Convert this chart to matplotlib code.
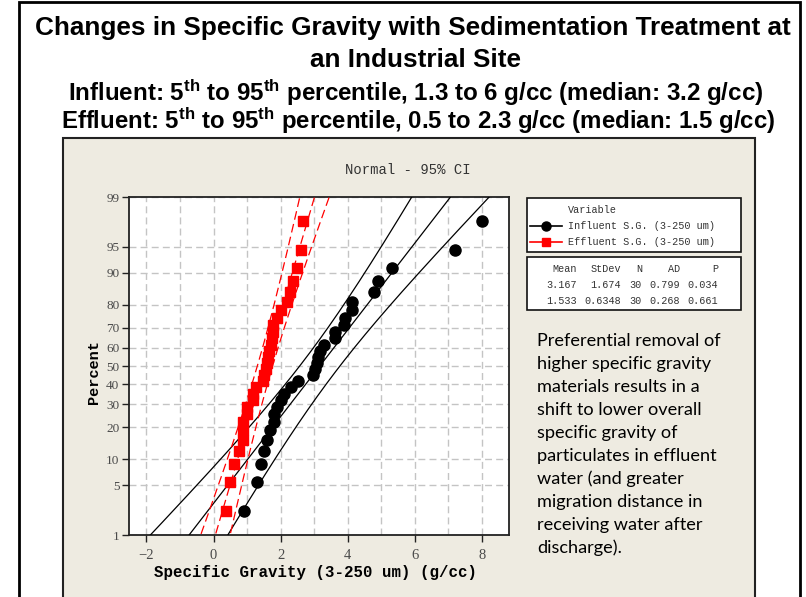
import numpy as np
import matplotlib
matplotlib.use("Agg")
import matplotlib.pyplot as plt
from matplotlib.lines import Line2D
from matplotlib.patches import Rectangle
from matplotlib import font_manager
from statistics import NormalDist

# ---------------- data ----------------
influent = [0.91, 1.29, 1.41, 1.50, 1.58, 1.68, 1.80, 1.80, 1.88, 2.00,
            2.11, 2.31, 2.53, 2.97, 3.02, 3.07, 3.12, 3.17, 3.29, 3.62,
            3.62, 3.90, 3.92, 4.12, 4.12, 4.79, 4.89, 5.31, 7.19, 8.01]
effluent = [0.37, 0.49, 0.61, 0.77, 0.89, 0.89, 0.89, 0.99, 0.99, 1.17,
            1.19, 1.27, 1.48, 1.50, 1.55, 1.58, 1.62, 1.66, 1.70, 1.74,
            1.78, 1.78, 1.88, 2.00, 2.18, 2.28, 2.38, 2.50, 2.60, 2.68]
series_names = ["Influent S.G. (3-250 um)", "Effluent S.G. (3-250 um)"]
fit_mean = [3.167, 1.533]
fit_sd = [1.674, 0.6348]
fit_n = [30, 30]
stats_header = ["Mean", "StDev", "N", "AD", "P"]
stats_influent = ["3.167", "1.674", "30", "0.799", "0.034"]
stats_effluent = ["1.533", "0.6348", "30", "0.268", "0.661"]
percent_ticks = [1, 5, 10, 20, 30, 40, 50, 60, 70, 80, 90, 95, 99]
x_ticks = [-2, 0, 2, 4, 6, 8]
x_grid = list(range(-2, 9))

title_lines = ["Changes in Specific Gravity with Sedimentation Treatment at",
               "an Industrial Site"]
subtitle_lines = [r"Influent: 5$^{\mathrm{th}}$ to 95$^{\mathrm{th}}$ percentile, 1.3 to 6 g/cc (median: 3.2 g/cc)",
                  r"Effluent: 5$^{\mathrm{th}}$ to 95$^{\mathrm{th}}$ percentile, 0.5 to 2.3 g/cc (median: 1.5 g/cc)"]
note_lines = ["Preferential removal of", "higher specific gravity",
              "materials results in a", "shift to lower overall",
              "specific gravity of", "particulates in effluent",
              "water (and greater", "migration distance in",
              "receiving water after", "discharge)."]

# ---------------- setup ----------------
names = {f.name for f in font_manager.fontManager.ttflist}
title_family = "Liberation Sans Narrow" if "Liberation Sans Narrow" in names else "Liberation Sans"
plt.rcParams["mathtext.fontset"] = "custom"
plt.rcParams["mathtext.rm"] = title_family + ":bold"
plt.rcParams["mathtext.bf"] = title_family + ":bold"
plt.rcParams["mathtext.it"] = title_family + ":bold"

W, H = 806, 597
fig = plt.figure(figsize=(W / 100, H / 100), dpi=100)
fig.patch.set_facecolor("white")


def fx(px):
    return px / W


def fy(py):
    return 1 - py / H


renderer = fig.canvas.get_renderer()


def fit_width(t, target):
    w = t.get_window_extent(renderer).width
    t.set_fontsize(t.get_fontsize() * target / w)


# outer frame
fig.add_artist(Rectangle((fx(19), fy(605)), fx(800) - fx(19), fy(1.5) - fy(605),
                         transform=fig.transFigure, fill=False, edgecolor="black", lw=2,
                         zorder=-20))
# beige panel
fig.add_artist(Rectangle((fx(63), fy(600)), fx(755) - fx(63), fy(138) - fy(600),
                         transform=fig.transFigure, facecolor="#EEEBE1", edgecolor="#222222",
                         lw=1.5, zorder=-10))

# titles
t1 = fig.text(fx(412.5), fy(28), title_lines[0], ha="center", va="center", fontsize=16,
              fontweight="bold", family=title_family, color="black")
fit_width(t1, 755)
fig.text(fx(415), fy(60), title_lines[1], ha="center", va="center", fontsize=t1.get_fontsize(),
         fontweight="bold", family=title_family, color="black")

sub_y = [93, 121]
sub_x = [416, 418]
sub_w = [698, 718]
for s, x, y, w in zip(subtitle_lines, sub_x, sub_y, sub_w):
    t = fig.text(fx(x), fy(y), s, ha="center", va="center", fontsize=14,
                 fontweight="bold", family=title_family, color="black")
    fit_width(t, w)

# ---------------- axes ----------------
ppf = NormalDist().inv_cdf
ax = fig.add_axes([fx(128.5), fy(535), fx(509) - fx(128.5), fy(197) - fy(535)])
ax.set_facecolor("white")

zlo, zhi = ppf(0.01), ppf(0.99)
zz = np.linspace(ppf(0.004), ppf(0.996), 300)
colors = ["black", "#FF0000"]
markers = ["o", "s"]
msizes = [8, 7.5]
for k, data in enumerate([influent, effluent]):
    n = len(data)
    xs = np.sort(np.array(data))
    zs = np.array([ppf((i + 1 - 0.3) / (n + 0.4)) for i in range(n)])
    center = fit_mean[k] + fit_sd[k] * zz
    hw = 1.96 * fit_sd[k] * np.sqrt(1 / fit_n[k] + zz ** 2 / (2 * fit_n[k]))
    for line in (center - hw, center, center + hw):
        if k == 0:
            ax.plot(line, zz, color=colors[k], lw=0.9, zorder=3)
        else:
            ax.plot(line, zz, color=colors[k], lw=0.9, dashes=(7, 3.5), zorder=3)
    ax.plot(xs, zs, linestyle="none", marker=markers[k], ms=msizes[k],
            color=colors[k], mec=colors[k], zorder=5)

ax.set_xlim(-2.533, 8.805)
ax.set_ylim(zlo, zhi)
ax.set_xticks(x_ticks)
ax.set_xticks([v for v in x_grid if v not in x_ticks], minor=True)
ax.set_yticks([ppf(p / 100) for p in percent_ticks])
ax.set_yticklabels([str(p) for p in percent_ticks])
ax.grid(True, which="both", axis="x", color="#C4C4C4", lw=1, dashes=(5, 3))
ax.grid(True, which="major", axis="y", color="#C4C4C4", lw=1, dashes=(5, 3))
ax.set_axisbelow(True)
ax.tick_params(axis="both", which="major", direction="out", length=5, width=1,
               color="#222222", labelcolor="#4A4A4A", labelsize=10.5)
ax.tick_params(axis="y", labelsize=9.5, pad=1.5)
ax.tick_params(axis="x", which="minor", length=0)
ax.tick_params(axis="x", pad=5)
for lab in ax.get_xticklabels() + ax.get_yticklabels():
    lab.set_family("Liberation Serif")
for sp in ax.spines.values():
    sp.set_color("#222222")
    sp.set_linewidth(1.3)

# axis titles
fig.text(fx(316), fy(573), "Specific Gravity (3-250 um) (g/cc)", ha="center", va="center",
         family="Liberation Mono", fontweight="bold", fontsize=11.3, color="black")
fig.text(fx(94), fy(372), "Percent", ha="center", va="center", rotation=90,
         family="Liberation Mono", fontweight="bold", fontsize=11, color="black")
fig.text(fx(408), fy(170), "Normal - 95% CI", ha="center", va="center",
         family="Liberation Mono", fontsize=10, color="#333333")

# ---------------- legend ----------------
fig.add_artist(Rectangle((fx(527), fy(252)), fx(741) - fx(527), fy(198) - fy(252),
                         transform=fig.transFigure, facecolor="white", edgecolor="#111111", lw=1.2))
mono = dict(family="Liberation Mono", fontsize=7.3, color="#333333", va="center")
fig.text(fx(568), fy(210), "Variable", ha="left", **mono)
for k, y in enumerate([226, 242]):
    fig.add_artist(Line2D([fx(530), fx(562)], [fy(y), fy(y)], transform=fig.transFigure,
                          color=colors[k], lw=1.2))
    fig.add_artist(Line2D([fx(546)], [fy(y)], transform=fig.transFigure, linestyle="none",
                          marker=markers[k], ms=6.5 if k == 0 else 6, color=colors[k]))
    fig.text(fx(568), fy(y), series_names[k], ha="left", **mono)

fig.add_artist(Rectangle((fx(527), fy(310)), fx(741) - fx(527), fy(257) - fy(310),
                         transform=fig.transFigure, facecolor="white", edgecolor="#111111", lw=1.2))
col_right = [577, 621, 642, 680, 718]
for row, y in zip([stats_header, stats_influent, stats_effluent], [269, 285, 301]):
    for s, x in zip(row, col_right):
        fig.text(fx(x), fy(y), s, ha="right", **mono)

# ---------------- note ----------------
note_texts = []
for i, s in enumerate(note_lines):
    t = fig.text(fx(537), fy(341 + 23 * i), s, ha="left", va="center",
                 family="Lato", fontsize=12, color="black")
    note_texts.append(t)
fit_width(note_texts[0], 183)
for t in note_texts[1:]:
    t.set_fontsize(note_texts[0].get_fontsize())

fig.savefig("out.png", dpi=100)
